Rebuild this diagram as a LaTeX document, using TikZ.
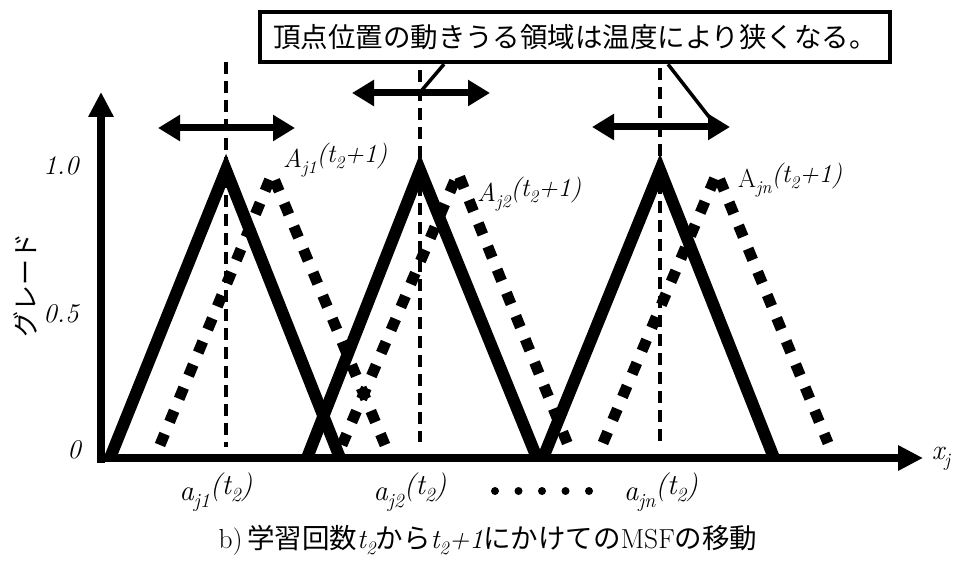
\documentclass[tikz,border=0pt]{standalone}
\usepackage{fontspec}
\newfontfamily\jp{Noto Sans CJK JP}
\usetikzlibrary{arrows.meta}
\def\subsz{15}
\newcommand\sbs[1]{\raisebox{-0.24em}{\fontsize{\subsz}{\subsz}\selectfont #1}}
\newcommand\sps[1]{\raisebox{0.2em}{#1}}
\begin{document}
\begin{tikzpicture}[x=1pt,y=-1pt,
  soltri/.style={line width=12pt, line join=miter, miter limit=10},
  dottri/.style={line width=11pt, dash pattern=on 12pt off 13pt},
  vdash/.style={line width=4pt, dash pattern=on 12pt off 7pt},
  axisline/.style={line width=8pt, -{Triangle[length=25pt,width=24pt]}},
  darrow/.style={line width=7pt, {Triangle[length=22pt,width=25pt]}-{Triangle[length=22pt,width=25pt]}},
  leader/.style={line width=3.5pt},
  mlabel/.style={font=\def\subsz{18}\fontsize{26}{30}\selectfont\itshape, inner sep=0pt},
  blabel/.style={font=\def\subsz{20}\fontsize{29}{33}\selectfont\itshape, inner sep=0pt},
  tick/.style={font=\fontsize{27}{30}\selectfont\itshape, inner sep=0pt},
]
\useasboundingbox (0,0) rectangle (955,561);

% vertical dashed lines
\coordinate (v1t) at (226,62);  \coordinate (v1b) at (226,447);
\coordinate (v2t) at (420,70);  \coordinate (v2b) at (420,442);
\coordinate (v3t) at (660,68);  \coordinate (v3b) at (660,442);
\draw[vdash] (v1t) -- (v1b);
\draw[vdash] (v2t) -- (v2b);
\draw[vdash] (v3t) -- (v3b);

% solid triangles (time t2)
\draw[soltri] (110,458) -- (226,170) -- (340,458);
\draw[soltri] (307,458) -- (420,170) -- (537,458);
\draw[soltri] (543,458) -- (660,170) -- (774,458);

% dotted triangles (time t2+1)
\draw[dottri] (160,445) -- (272,174) -- (385,445);
\draw[dottri] (342,445) -- (458,173) -- (568,445);
\draw[dottri] (603,443) -- (717,173) -- (828,443);

% axes
\coordinate (ytip) at (101,92);
\coordinate (xtip) at (923,458);
\draw[axisline] (101,463) -- (ytip);
\draw[axisline] (97,458) -- (xtip);

% tick labels
\node[tick] (t1) at (61,166) {1.0};
\node[tick] (t05) at (61,314) {0.5};
\node[tick] (t0) at (74,450) {0};
\node[font=\fontsize{26}{30}\selectfont\jp, rotate=90, inner sep=0pt] (ylab) at (25,285) {グレード};
\node[font=\def\subsz{19}\fontsize{28}{30}\selectfont\itshape, inner sep=0pt] (xlab) at (941,459) {x\sbs{j}};

% double arrows
\coordinate (a1l) at (158,128); \coordinate (a1r) at (295,128);
\coordinate (a2l) at (352,93);  \coordinate (a2r) at (490,93);
\coordinate (a3l) at (592,127); \coordinate (a3r) at (730,127);
\draw[darrow] (a1l) -- (a1r);
\draw[darrow] (a2l) -- (a2r);
\draw[darrow] (a3l) -- (a3r);

% callout box
\node[draw, line width=4.5pt, fill=white, minimum width=630pt, minimum height=50pt, inner sep=0pt,
      font=\fontsize{27.5}{30}\selectfont\jp] (box) at (575,37) {頂点位置の動きうる領域は温度により狭くなる。};
\coordinate (l1e) at (422,90);
\coordinate (l2e) at (713,122);
\draw[leader] (box.south -| 444,0) -- (l1e);
\draw[leader] (box.south -| 668,0) -- (l2e);

% labels of moved functions
\node[mlabel, anchor=west] (A1) at (283,160) {A\sbs{j1}\sps{(t\sbs{2}+1)}};
\node[mlabel, anchor=west] (A2) at (477,194) {A\sbs{j2}\sps{(t\sbs{2}+1)}};
\node[mlabel, anchor=west] (An) at (738,180) {\upshape A\itshape\sbs{jn}\sps{(t\sbs{2}+1)}};

% labels of vertices
\node[blabel] (b1) at (216,492) {a\sbs{j1}\sps{(t\sbs{2})}};
\node[blabel] (b2) at (410,492) {a\sbs{j2}\sps{(t\sbs{2})}};
\node[blabel] (bn) at (661,492) {a\sbs{jn}\sps{(t\sbs{2})}};
\foreach \i in {0,...,4} \fill (495+\i*23.5,491) circle (4pt);

% caption
\node[font=\def\subsz{19}\fontsize{27.5}{31}\selectfont, inner sep=0pt] (cap) at (488,540)
  {b)\,{\jp 学習回数}{\itshape t\sbs{2}}{\jp から}{\itshape t\sbs{2}+1}{\jp にかけての}MSF{\jp の移動}};
\end{tikzpicture}
\end{document}
